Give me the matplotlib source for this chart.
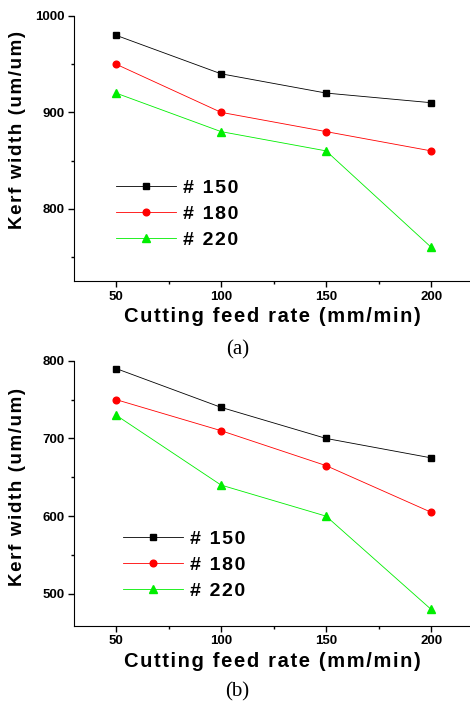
import matplotlib
matplotlib.use("Agg")
import matplotlib.pyplot as plt
from matplotlib.ticker import MultipleLocator

plt.rcParams['font.family'] = ['Liberation Sans', 'DejaVu Sans']

# 数据
feed_rate = [50, 100, 150, 200]
series_names = ["# 150", "# 180", "# 220"]
kerf_a_150 = [980, 940, 920, 910]
kerf_a_180 = [950, 900, 880, 860]
kerf_a_220 = [920, 880, 860, 760]
kerf_b_150 = [790, 740, 700, 675]
kerf_b_180 = [750, 710, 665, 605]
kerf_b_220 = [730, 640, 600, 480]

styles = [dict(color="black", marker="s", ms=4),
          dict(color="red", marker="o", ms=4.8),
          dict(color="#00ee00", marker="^", ms=5.5)]

HS = "\u200a"  # 字间距


def spaced(s):
    return HS.join(s)


fig = plt.figure(figsize=(4.7, 7.04), dpi=100, facecolor='white')


def panel(rect, series, ylim, caption, cap_y, leg_anchor, ylab_y):
    ax = fig.add_axes(rect)
    for ys, name, st in zip(series, series_names, styles):
        ax.plot(feed_rate, ys, lw=0.6, label=spaced(name), mec=st["color"], **st)
    ax.set_xlim(30, 218.5)
    ax.set_ylim(*ylim)
    ax.xaxis.set_major_locator(MultipleLocator(50))
    ax.xaxis.set_minor_locator(MultipleLocator(25))
    ax.yaxis.set_major_locator(MultipleLocator(100))
    ax.yaxis.set_minor_locator(MultipleLocator(50))
    ax.spines['top'].set_visible(False)
    ax.spines['right'].set_visible(False)
    ax.tick_params(which='major', length=4, width=1, labelsize=9.5, pad=3)
    ax.tick_params(which='minor', length=2, width=1)
    for lab in ax.get_xticklabels() + ax.get_yticklabels():
        lab.set_fontweight('bold')
    ax.set_xlabel(spaced("Cutting feed rate (mm/min)"), fontsize=14.5,
                  fontweight='bold', labelpad=3)
    ax.set_ylabel(spaced("Kerf width (um/um)"), fontsize=13.5, fontweight='bold')
    ax.yaxis.set_label_coords(-0.122, ylab_y)
    ax.legend(loc='upper left', bbox_to_anchor=leg_anchor, frameon=False,
              prop=dict(size=14, weight='bold'), handlelength=3.1,
              handletextpad=0.35, labelspacing=0.43, borderpad=0, borderaxespad=0)
    fig.text(0.505, cap_y, caption, ha='center', va='center',
             fontsize=15, family='Liberation Serif')
    return ax


panel([0.1574, 0.6009, 0.8426, 0.3764],
      [kerf_a_150, kerf_a_180, kerf_a_220], (725, 1000),
      "(a)", 1 - 350 / 704, (0.106, 0.384), 0.57)
panel([0.1574, 0.1112, 0.8426, 0.3764],
      [kerf_b_150, kerf_b_180, kerf_b_220], (459, 800),
      "(b)", 1 - 692 / 704, (0.124, 0.361), 0.523)

fig.savefig("out.png", dpi=100)
